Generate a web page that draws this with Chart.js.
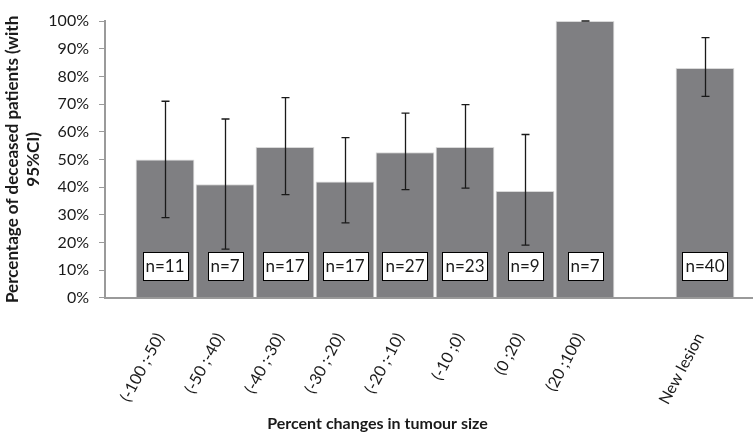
<!DOCTYPE html>
<html>
<head>
<meta charset="utf-8">
<script src="https://cdn.jsdelivr.net/npm/chart.js@4.4.1/dist/chart.umd.min.js"></script>
<style>
  html, body { margin: 0; padding: 0; background: #fff; }
  #wrap { width: 753px; height: 433px; }
</style>
</head>
<body>
<div id="wrap"><canvas id="myChart"></canvas></div>
<script>
'use strict';

/*          DATA          */
// tumour size change groups, the blank one is the empty slot before "New lesion"
const categories = ['(-100 ;-50)', '(-50 ;-40)', '(-40 ;-30)', '(-30 ;-20)', '(-20 ;-10)',
  '(-10 ;0)', '(0 ;20)', '(20 ;100)', '', 'New lesion'];
// percentage of deceased patients in each group
const deceased = [50, 41, 54.5, 42, 52.6, 54.5, 38.6, 100, null, 83];
// 95% confidence interval, lower and upper bound
const ciLow = [29, 17.6, 37.3, 27.1, 39.1, 39.6, 19, 100, null, 72.8];
const ciHigh = [71, 64.6, 72.3, 57.9, 66.7, 69.8, 59, 100, null, 94];
// number of patients in each group
const counts = [11, 7, 17, 17, 27, 23, 9, 7, null, 40];
// y axis tick values
const yTicks = [0, 10, 20, 30, 40, 50, 60, 70, 80, 90, 100];

const FONT = 'Lato, "Open Sans", sans-serif';
const TEXT = '#1a1a1a';
const AXIS = '#9a9a9a';

// bars are placed on a linear axis, slot 1 is the first group
const points = [];
for (let i = 0; i < categories.length; i++) {
  if (deceased[i] !== null) {
    points.push({ x: i + 1, y: deceased[i] });
  }
}

// draws the confidence interval whiskers and the "n=.." boxes
const errorBars = {
  id: 'errorBars',
  afterDatasetsDraw(chart, args, opts) {
    const ctx = chart.ctx;
    const xs = chart.scales.x;
    const ys = chart.scales.y;
    ctx.save();
    ctx.strokeStyle = TEXT;
    ctx.lineWidth = 1.3;
    for (let i = 0; i < categories.length; i++) {
      if (deceased[i] === null) continue;
      const x = Math.round(xs.getPixelForValue(i + 1)) + 0.5;
      const yLo = ys.getPixelForValue(ciLow[i]);
      const yHi = ys.getPixelForValue(ciHigh[i]);
      ctx.beginPath();
      ctx.moveTo(x, yLo);
      ctx.lineTo(x, yHi);
      ctx.moveTo(x - 4, yLo);
      ctx.lineTo(x + 4, yLo);
      ctx.moveTo(x - 4, yHi);
      ctx.lineTo(x + 4, yHi);
      ctx.stroke();
    }
    // sample size boxes
    ctx.font = '17px ' + FONT;
    ctx.textAlign = 'center';
    ctx.textBaseline = 'middle';
    ctx.lineWidth = 1;
    const yMid = ys.getPixelForValue(opts.level);
    for (let i = 0; i < categories.length; i++) {
      if (counts[i] === null) continue;
      const label = 'n=' + counts[i];
      const x = xs.getPixelForValue(i + 1);
      const w = Math.round(ctx.measureText(label).width + 6);
      const h = 28;
      const left = Math.round(x - w / 2) + 0.5;
      const top = Math.round(yMid - h / 2) + 0.5;
      ctx.fillStyle = '#ffffff';
      ctx.fillRect(left, top, w, h);
      ctx.strokeStyle = '#000000';
      ctx.strokeRect(left, top, w, h);
      ctx.fillStyle = TEXT;
      ctx.fillText(label, x, yMid + 1);
    }
    ctx.restore();
  }
};

const config = {
  type: 'bar',
  data: {
    datasets: [{
      label: 'Deceased patients',
      data: points,
      backgroundColor: '#7f7f82',
      borderColor: '#d9d9d9',
      borderWidth: { left: 1, right: 1, top: 1, bottom: 0 },
      barPercentage: 0.98,
      categoryPercentage: 1
    }]
  },
  options: {
    responsive: true,
    maintainAspectRatio: false,
    animation: false,
    layout: {
      padding: { left: 2, right: 0, top: 21, bottom: 0 }
    },
    plugins: {
      legend: { display: false },
      tooltip: { enabled: false },
      title: {
        display: true,
        position: 'bottom',
        text: 'Percent changes in tumour size',
        color: TEXT,
        font: { family: FONT, size: 16, weight: 'bold' },
        padding: { top: 8, bottom: 0 }
      },
      errorBars: { level: 11.5 }
    },
    scales: {
      x: {
        type: 'linear',
        offset: false,
        min: 0,
        max: 10.8,
        grid: { display: false, drawTicks: false },
        border: { display: true, color: AXIS, width: 2 },
        afterBuildTicks(scale) {
          scale.ticks = categories.map((c, i) => ({ value: i + 1 }));
        },
        afterFit(scale) {
          scale.paddingLeft = 0;
          scale.paddingRight = 0;
          scale.height = 108;
        },
        ticks: {
          autoSkip: false,
          maxRotation: 62,
          minRotation: 62,
          padding: 32,
          labelOffset: -5,
          color: TEXT,
          font: { family: FONT, size: 16 },
          callback: (value) => categories[value - 1]
        }
      },
      y: {
        min: 0,
        max: 100,
        afterBuildTicks(scale) {
          scale.ticks = yTicks.map((v) => ({ value: v }));
        },
        afterFit(scale) {
          scale.width = 103;
        },
        grid: {
          drawOnChartArea: false,
          drawTicks: true,
          tickLength: 6,
          color: AXIS
        },
        border: { display: true, color: AXIS, width: 2 },
        ticks: {
          padding: 10,
          color: TEXT,
          font: { family: FONT, size: 16 },
          callback: (value) => value + '%'
        },
        title: {
          display: true,
          text: ['Percentage of deceased patients (with', '95%CI)'],
          color: TEXT,
          font: { family: FONT, size: 17, weight: 'bold', lineHeight: 1.25 },
          padding: { top: 0, bottom: 2 }
        }
      }
    }
  },
  plugins: [errorBars]
};

const myChart = new Chart(document.getElementById('myChart'), config);
</script>
</body>
</html>
